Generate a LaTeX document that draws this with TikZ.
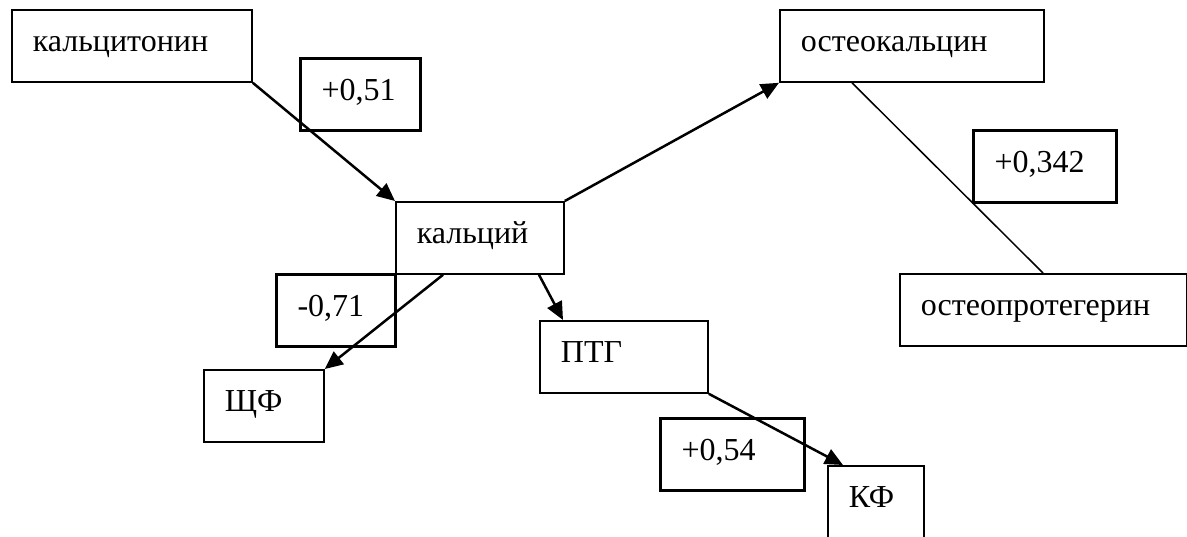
\documentclass[tikz,border=0pt]{standalone}
\usepackage{fontspec}
\setmainfont{Liberation Serif}
\usetikzlibrary{arrows.meta}
\begin{document}
\begin{tikzpicture}[x=1pt,y=-1pt,
		box/.style={draw, line width=1.8pt, anchor=north west, align=left,
			inner xsep=21pt, inner ysep=0pt, text height=42pt, text depth=30pt,
			font=\fontsize{32}{38}\selectfont},
		coef/.style={box, line width=3pt},
		link/.style={line width=2.5pt, -{Triangle[length=18pt,width=16pt]}},
		plain/.style={line width=1.5pt}]
		\useasboundingbox (0,0) rectangle (1187,536);
		
		\node[box, text width=198pt] (calcitonin) at (11,9) {кальцитонин};
		\node[coef, text width=78pt] (c051) at (299,57) {+0,51};
		\node[box, text width=126pt] (calcium) at (395,201) {кальций};
		\node[box, text width=222pt] (osteocalcin) at (779,9) {остеокальцин};
		\node[coef, text width=101pt] (c0342) at (972,129) {+0,342};
		\node[box, text width=245pt] (opg) at (899,273) {остеопротегерин};
		\node[coef, text width=77pt] (c071) at (275,273) {-0,71};
		\node[box, text width=78pt] (shf) at (203,369) {ЩФ};
		\node[box, text width=126pt] (ptg) at (539,320) {ПТГ};
		\node[coef, text width=102pt] (c054) at (659,417) {+0,54};
		\node[box, text width=54pt, text depth=48pt] (kf) at (827,465) {КФ};
		
		\draw[link] (calcitonin.south east) -- (calcium.north west);
		\draw[link] (calcium.north east) -- (osteocalcin.south west);
		\draw[link] ([xshift=48pt]calcium.south west) -- (shf.north east);
		\draw[link] ([xshift=144pt]calcium.south west) -- ([xshift=24pt]ptg.north west);
		\draw[link] (ptg.south east) -- ([xshift=16pt]kf.north west);
		\draw[plain] ([xshift=73pt]osteocalcin.south west) -- ([xshift=144pt]opg.north west);
\end{tikzpicture}
\end{document}
